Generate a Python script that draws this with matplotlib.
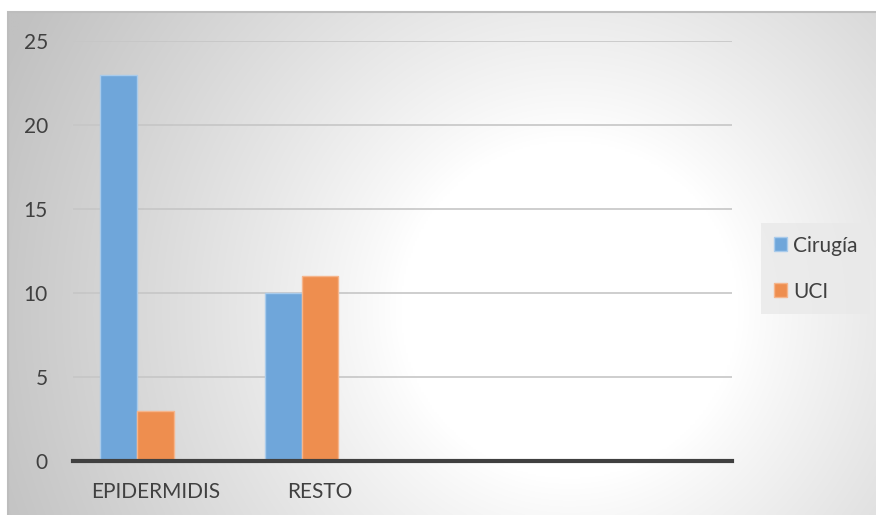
import numpy as np
import matplotlib
matplotlib.use("Agg")
import matplotlib.pyplot as plt
from matplotlib.patches import Rectangle

categories = ["EPIDERMIDIS", "RESTO", "", ""]
series_names = ["Cirugía", "UCI"]
cirugia = [23, 10, np.nan, np.nan]
uci = [3, 11, np.nan, np.nan]
y_ticks = [0, 5, 10, 15, 20, 25]

W, H = 876, 515
plt.rcParams['font.family'] = ['Lato', 'DejaVu Sans']
fig = plt.figure(figsize=(W / 100, H / 100), dpi=100)
fig.patch.set_facecolor('white')

# chart area background with radial gradient
bx0, by0 = 8, 12
bg = fig.add_axes([bx0 / W, 0, 1 - bx0 / W, 1 - by0 / H])
bg.set_axis_off()
xs = np.linspace(bx0, W, 400)
ys = np.linspace(by0, H, 300)
X, Y = np.meshgrid(xs, ys)
cx, cy = 570, 310
r = np.sqrt((X - cx) ** 2 + (Y - cy) ** 2)
t = np.clip((r - 170) / 450, 0, 1)
val = (255 - 62 * t ** 0.9) / 255
img = np.dstack([val, val, val])
bg.imshow(img, extent=[0, 1, 0, 1], aspect='auto', origin='upper', interpolation='bilinear')
bg.set_xlim(0, 1); bg.set_ylim(0, 1)
fig.patches.append(Rectangle((bx0 / W, -0.01), 1.0, 1 - by0 / H + 0.01, transform=fig.transFigure,
                             fill=False, edgecolor='#bdbdbd', linewidth=1.5))

# plot area
left, right, top, bottom = 73, 732, 41, 461
ax = fig.add_axes([left / W, 1 - bottom / H, (right - left) / W, (bottom - top) / H])
ax.patch.set_alpha(0)

n_series_slots = 3
w = 1 / (n_series_slots + 1.5)
x = np.arange(len(categories))
start = -0.5 + 0.75 * w
blue = '#6FA6DA'
orange = '#EE8E4F'
ax.bar(x + start + 0 * w, cirugia, width=w, align='edge', color=blue, edgecolor='#A9CBEB',
       linewidth=1.0, label=series_names[0], zorder=3)
ax.bar(x + start + 1 * w, uci, width=w, align='edge', color=orange, edgecolor='#F5B58C',
       linewidth=1.0, label=series_names[1], zorder=3)

ax.set_xlim(-0.5, len(categories) - 0.5)
ax.set_ylim(0, 25)
ax.set_yticks(y_ticks)
ax.set_xticks(x)
ax.set_xticklabels(categories)
ax.yaxis.grid(True, color='#c6c6c6', linewidth=1.2, zorder=0)
ax.set_axisbelow(True)
for s in ['top', 'right', 'left']:
    ax.spines[s].set_visible(False)
ax.spines['bottom'].set_color('#404040')
ax.spines['bottom'].set_linewidth(3)
ax.spines['bottom'].set_zorder(4)
ax.tick_params(axis='both', length=0, labelsize=15, colors='#404040')
ax.tick_params(axis='y', pad=18)
ax.tick_params(axis='x', pad=15)

leg = fig.legend(loc='upper left', bbox_to_anchor=(761 / W, 1 - 223 / H), frameon=True,
                 fontsize=15, handlelength=0.65, handleheight=0.65, handletextpad=0.3,
                 labelspacing=1.25, borderpad=0.6, borderaxespad=0)
leg.get_frame().set_facecolor('#e9e9e9')
leg.get_frame().set_edgecolor('none')
leg.get_frame().set_alpha(0.8)
leg.get_frame().set_boxstyle('square', pad=0)
for txt in leg.get_texts():
    txt.set_color('#404040')

fig.savefig('out.png', dpi=100)
